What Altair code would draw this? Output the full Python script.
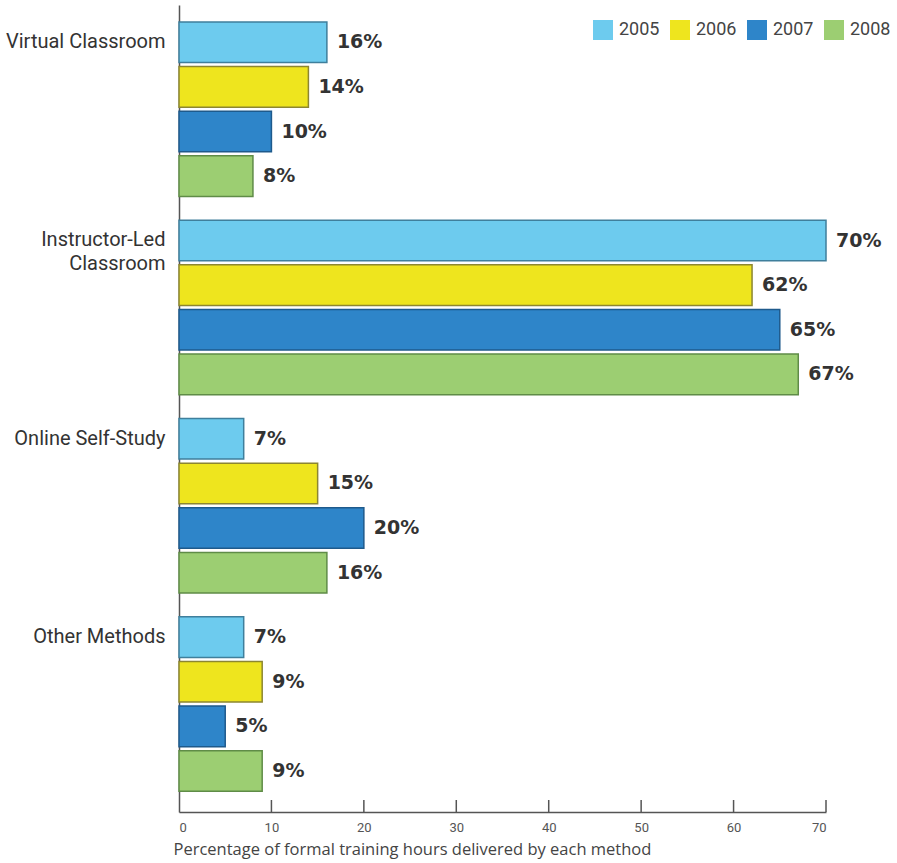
import altair as alt
import pandas as pd

categories = ["Virtual Classroom", "Instructor-Led Classroom", "Online Self-Study", "Other Methods"]
years = ["2005", "2006", "2007", "2008"]
v2005 = [16, 70, 7, 7]
v2006 = [14, 62, 15, 9]
v2007 = [10, 65, 20, 5]
v2008 = [8, 67, 16, 9]
x_ticks = [0, 10, 20, 30, 40, 50, 60, 70]
inner_ticks = [10, 20, 30, 40, 50, 60, 70]

fill_colors = ["#6DCBEE", "#EEE51E", "#2E85C9", "#9CCE72"]
stroke_colors = ["#3F7F9C", "#8C8631", "#1E5A8C", "#5F8C47"]

rows = []
for yr, vals in zip(years, [v2005, v2006, v2007, v2008]):
    for c, v in zip(categories, vals):
        rows.append({"category": c, "year": yr, "value": v, "label": f"{v}%"})
df = pd.DataFrame(rows)
tick_df = pd.DataFrame({"tick": inner_ticks})

LBL = "Roboto, Liberation Sans, sans-serif"

W, H = 647, 807

x_scale = alt.Scale(domain=[0, 70], nice=False, zero=True)
x_axis = alt.Axis(
    values=x_ticks, tickSize=0, grid=False, domainColor="#555", domainWidth=1.5,
    labelFont=LBL, labelFontSize=13, labelColor="#555", labelPadding=9,
    title="Percentage of formal training hours delivered by each method",
    titleFont="Open Sans", titleFontSize=16.5, titleFontWeight="normal",
    titleColor="#444", titlePadding=7, titleAnchor="start", titleAlign="left", titleX=-6,
)
x_enc = alt.X("value:Q", scale=x_scale, axis=x_axis)
y_enc = alt.Y(
    "category:N",
    sort=categories,
    scale=alt.Scale(paddingInner=0.12, paddingOuter=0.095, align=0.45),
    axis=alt.Axis(
        title=None, ticks=False, grid=False, domainColor="#555", domainWidth=1.5,
        labelFont=LBL, labelFontSize=20, labelColor="#333", labelPadding=14,
        labelBaseline="top", labelOffset=-77, labelLimit=260, labelLineHeight=24,
        labelExpr="datum.value == 'Instructor-Led Classroom' ? ['Instructor-Led', 'Classroom'] : datum.value",
    ),
)
yoff_enc = alt.YOffset("year:N", sort=years, scale=alt.Scale(paddingInner=0.09, paddingOuter=0))

bars = alt.Chart(df).mark_bar(strokeWidth=1.5).encode(
    x=x_enc,
    y=y_enc,
    yOffset=yoff_enc,
    color=alt.Color(
        "year:N",
        scale=alt.Scale(domain=years, range=fill_colors),
        legend=alt.Legend(
            title=None, orient="none", legendX=414, legendY=15, direction="horizontal",
            symbolType="square", symbolSize=400, symbolStrokeWidth=0,
            labelFont=LBL, labelFontSize=18, labelColor="#444", labelOffset=6,
            columnPadding=10, padding=0,
        ),
    ),
    stroke=alt.Stroke("year:N", scale=alt.Scale(domain=years, range=stroke_colors), legend=None),
)

labels = alt.Chart(df).mark_text(
    align="left", baseline="middle", dx=10, font="DejaVu Sans", fontWeight="bold",
    fontSize=19, color="#333",
).encode(x=x_enc, y=y_enc, yOffset=yoff_enc, text="label:N")

ticks = alt.Chart(tick_df).mark_rule(color="#555", strokeWidth=1.5).encode(
    x=alt.X("tick:Q", scale=x_scale, axis=x_axis),
    y=alt.value(H - 12),
    y2=alt.value(H),
)

chart = alt.layer(bars, labels, ticks).properties(
    width=W, height=H,
    padding={"left": 179, "top": 5, "right": 71, "bottom": 51},
    autosize=alt.AutoSizeParams(type="none"),
).configure_view(stroke=None)

chart.save("out.html", embed_options={"renderer": "svg", "actions": False})
